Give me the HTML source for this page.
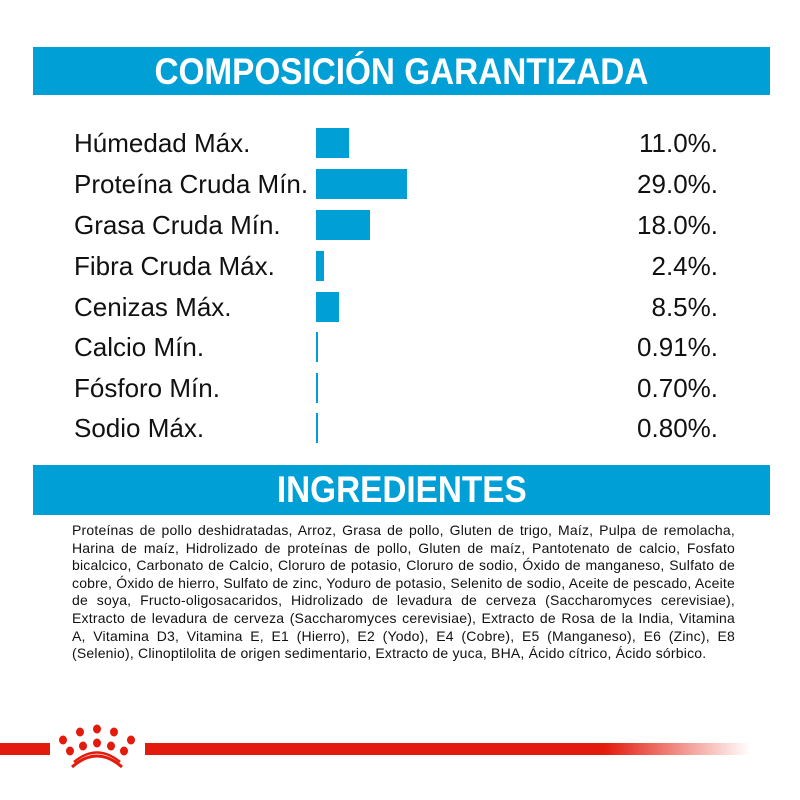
<!DOCTYPE html>
<html><head><meta charset="utf-8"><style>
body{margin:0;width:800px;height:800px;background:#fff;position:relative;overflow:hidden;font-family:"Liberation Sans",Arial,sans-serif;}
.band{position:absolute;left:33px;width:737px;background:#009fd6;color:#fff;font-weight:bold;text-align:center;}
.band span{display:inline-block;transform:scaleX(0.9);font-size:37px;}
.lab{position:absolute;left:74px;font-size:26px;color:#111;line-height:30px;}
.val{position:absolute;right:82px;font-size:26px;color:#111;line-height:30px;}
.bar{position:absolute;left:316px;height:30px;background:#009fd6;}
.ing{position:absolute;left:72px;width:663px;top:522px;font-size:14px;letter-spacing:0.2px;color:#111;line-height:17.6px;}
.ing div{text-align:justify;text-align-last:justify;white-space:nowrap;}
.ing div.l{text-align-last:left;}
</style></head><body>
<div class="band" style="top:47px;height:48px;line-height:50px;"><span>COMPOSICIÓN GARANTIZADA</span></div>

<div class="lab" style="top:128px">Húmedad Máx.</div><div class="bar" style="top:128px;width:33px"></div><div class="val" style="top:128px">11.0%.</div>
<div class="lab" style="top:169px">Proteína Cruda Mín.</div><div class="bar" style="top:169px;width:91px"></div><div class="val" style="top:169px">29.0%.</div>
<div class="lab" style="top:210px">Grasa Cruda Mín.</div><div class="bar" style="top:210px;width:54px"></div><div class="val" style="top:210px">18.0%.</div>
<div class="lab" style="top:251px">Fibra Cruda Máx.</div><div class="bar" style="top:251px;width:8px"></div><div class="val" style="top:251px">2.4%.</div>
<div class="lab" style="top:292px">Cenizas Máx.</div><div class="bar" style="top:292px;width:23px"></div><div class="val" style="top:292px">8.5%.</div>
<div class="lab" style="top:332px">Calcio Mín.</div><div class="bar" style="top:332px;width:1.5px"></div><div class="val" style="top:332px">0.91%.</div>
<div class="lab" style="top:373px">Fósforo Mín.</div><div class="bar" style="top:373px;width:1.5px"></div><div class="val" style="top:373px">0.70%.</div>
<div class="lab" style="top:413px">Sodio Máx.</div><div class="bar" style="top:413px;width:1.5px"></div><div class="val" style="top:413px">0.80%.</div>

<div class="band" style="top:465px;height:50px;line-height:50px;"><span>INGREDIENTES</span></div>

<div class="ing">
<div>Proteínas de pollo deshidratadas, Arroz, Grasa de pollo, Gluten de trigo, Maíz, Pulpa de remolacha,</div>
<div>Harina de maíz, Hidrolizado de proteínas de pollo, Gluten de maíz, Pantotenato de calcio, Fosfato</div>
<div>bicalcico, Carbonato de Calcio, Cloruro de potasio, Cloruro de sodio, Óxido de manganeso, Sulfato de</div>
<div>cobre, Óxido de hierro, Sulfato de zinc, Yoduro de potasio, Selenito de sodio, Aceite de pescado, Aceite</div>
<div>de soya, Fructo-oligosacaridos, Hidrolizado de levadura de cerveza (Saccharomyces cerevisiae),</div>
<div>Extracto de levadura de cerveza (Saccharomyces cerevisiae), Extracto de Rosa de la India, Vitamina</div>
<div>A, Vitamina D3, Vitamina E, E1 (Hierro), E2 (Yodo), E4 (Cobre), E5 (Manganeso), E6 (Zinc), E8</div>
<div class="l">(Selenio), Clinoptilolita de origen sedimentario, Extracto de yuca, BHA, Ácido cítrico, Ácido sórbico.</div>
</div>

<div style="position:absolute;left:0;top:743px;width:50px;height:12px;background:#e31b0c"></div>
<div style="position:absolute;left:145px;top:743px;width:605px;height:12px;background:linear-gradient(to right,#e31b0c 0%,#e31b0c 76%,rgba(227,27,12,0) 100%)"></div>
<svg style="position:absolute;left:50px;top:720px" width="95" height="50" viewBox="50 720 95 50">
<g fill="#e31b0c">
<ellipse cx="63" cy="740" rx="4" ry="4.5"/><ellipse cx="80" cy="732" rx="4" ry="4.5"/><ellipse cx="97" cy="729" rx="4" ry="4.5"/><ellipse cx="114" cy="732" rx="4" ry="4.5"/><ellipse cx="131" cy="740" rx="4" ry="4.5"/>
<ellipse cx="70" cy="751" rx="4" ry="4.5"/><ellipse cx="83" cy="746" rx="4" ry="4.5"/><ellipse cx="97" cy="743" rx="4" ry="4.5"/><ellipse cx="111" cy="746" rx="4" ry="4.5"/><ellipse cx="124" cy="751" rx="4" ry="4.5"/>
</g>
<path d="M72 767 Q97 745 122 767" stroke="#e31b0c" stroke-width="3" fill="none"/>
<path d="M74 762 Q97 743 120 762" stroke="#e31b0c" stroke-width="2.5" fill="none"/>
</svg>
</body></html>
